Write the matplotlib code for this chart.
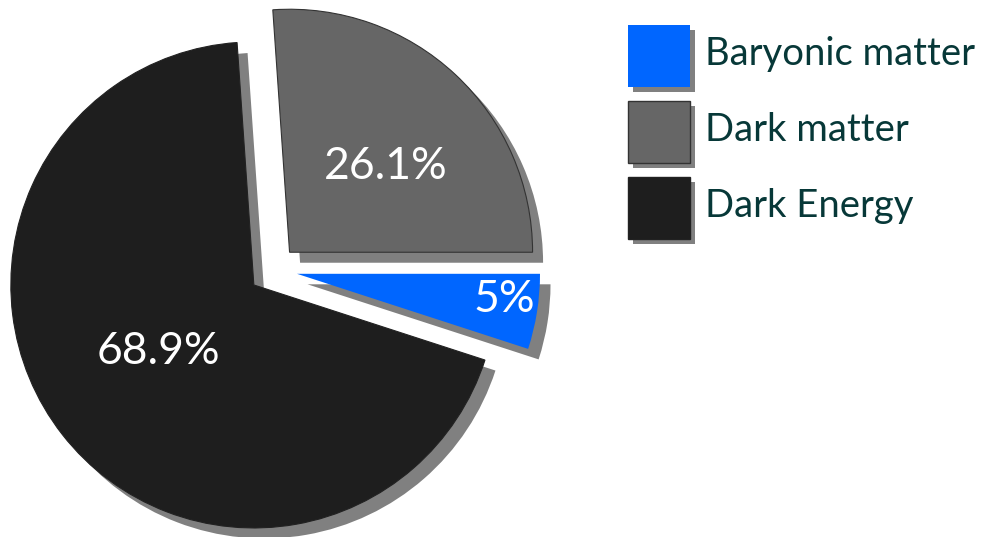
import numpy as np
import matplotlib.pyplot as plt
from matplotlib.patches import Rectangle

plt.rcParams['font.family'] = ['Lato', 'DejaVu Sans']

# share of the universe's energy content (%)
components = ["Baryonic matter", "Dark matter", "Dark Energy"]
shares = [5, 26.1, 68.9]
colors = ["#0066ff", "#666666", "#1e1e1e"]
edge_colors = ["none", "#333333", "#222222"]

shadow_color = "#808080"
legend_text_color = "#073838"

W, H = 984, 537
fig = plt.figure(figsize=(W / 100, H / 100), dpi=100)
ax = fig.add_axes([0, 0, 1, 1])
ax.set_xlim(0, W)
ax.set_ylim(0, H)
ax.set_aspect("equal")
ax.axis("off")

radius = 243
center = (273, H - 270)
explode = [0.1 * radius] * len(shares)  # pie() takes explode in data units
start = -18  # baryonic wedge ends exactly at 3 o'clock
shadow_dx = 10.5

# drop shadow: same pie in flat gray, shifted down-right, underneath
ax.pie(shares, explode=explode, startangle=start, radius=radius,
       center=(center[0] + shadow_dx, center[1] - shadow_dx),
       colors=[shadow_color] * len(shares), frame=True,
       wedgeprops=dict(linewidth=0, zorder=1))

wedges, _ = ax.pie(shares, explode=explode, startangle=start, radius=radius,
                   center=center, colors=colors, frame=True,
                   wedgeprops=dict(linewidth=0.8, zorder=2))
for w, ec in zip(wedges, edge_colors):
    w.set_edgecolor(ec)

# percentage labels inside each wedge (slightly off the bisector)
label_dist = [0.86, 0.53, 0.48]
label_turn = [2, -5, -3]  # degrees
for w, v, d, t in zip(wedges, shares, label_dist, label_turn):
    ang = np.deg2rad((w.theta1 + w.theta2) / 2 + t)
    cx, cy = w.center
    ax.text(cx + d * w.r * np.cos(ang), cy + d * w.r * np.sin(ang),
            f"{v:g}%", color="white", fontsize=32, ha="center", va="center",
            zorder=3)

ax.set_xlim(0, W)
ax.set_ylim(0, H)

# legend: big square swatches with a small shadow
box = 62
x0, y_top, step = 628, 25, 76
for i, (name, c, ec) in enumerate(zip(components, colors, edge_colors)):
    y = H - (y_top + i * step) - box
    ax.add_patch(Rectangle((x0 + 5, y - 5), box, box, facecolor=shadow_color,
                           edgecolor="none", zorder=4))
    ax.add_patch(Rectangle((x0, y), box, box, facecolor=c, edgecolor=ec,
                           linewidth=1, zorder=5))
    ax.text(x0 + box + 15, y + box / 2 + 2, name, color=legend_text_color,
            fontsize=27.5, ha="left", va="center", zorder=5)

fig.savefig("out.png", dpi=100)
